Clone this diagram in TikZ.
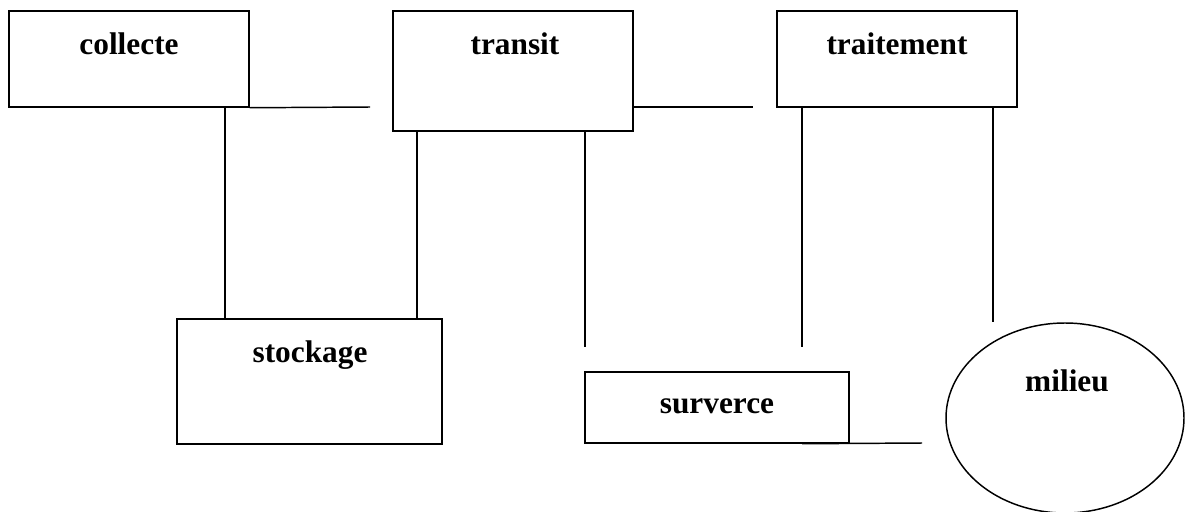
\documentclass[tikz,border=0pt]{standalone}
\usepackage{fontspec}
\setmainfont{Liberation Serif}
\usetikzlibrary{shapes.geometric}
\begin{document}
\begin{tikzpicture}[x=0.75pt,y=-0.75pt,
  box/.style={draw,line width=1.1pt,inner sep=0pt,rectangle},
  oval/.style={draw,line width=1.1pt,inner sep=0pt,ellipse,minimum width=238*0.75pt,minimum height=190*0.75pt},
  lbl/.style={anchor=base,inner sep=0pt,font=\fontsize{23.5}{28}\selectfont\bfseries},
  wire/.style={line width=1.1pt}]
\useasboundingbox (0,0) rectangle (1185,511);
% boxes
\node[box,minimum width=240*0.75pt,minimum height=96*0.75pt] (collecte) at (129,59) {};
\node[box,minimum width=240*0.75pt,minimum height=120*0.75pt] (transit) at (513,71) {};
\node[box,minimum width=240*0.75pt,minimum height=96*0.75pt] (traitement) at (897,59) {};
\node[box,minimum width=265*0.75pt,minimum height=125*0.75pt] (stockage) at (309.5,381.5) {};
\node[box,minimum width=264*0.75pt,minimum height=71*0.75pt] (surverce) at (717,407.5) {};
\node[oval] (milieu) at (1065,418) {};
% labels
\node[lbl] (tcollecte) at (129,54) {collecte};
\node[lbl] (ttransit) at (515,54) {transit};
\node[lbl] (ttraitement) at (897,54) {traitement};
\node[lbl] (tstockage) at (310,362) {stockage};
\node[lbl] (tsurverce) at (717,413) {surverce};
\node[lbl] (tmilieu) at (1067,391) {milieu};
% free ends
\coordinate (e1) at (370,107);
\coordinate (e2) at (753,107);
\coordinate (e3) at (585,347);
\coordinate (e4) at (802,347);
\coordinate (e5) at (922,443);
\coordinate (x1) at (225,0);
\coordinate (x2) at (417,0);
\coordinate (x3) at (993,0);
% connectors
\draw[wire] (collecte.south east) -- (e1);
\draw[wire] (transit.east |- e2) -- (e2);
\draw[wire] (collecte.south -| x1) -- (stockage.north -| x1);
\draw[wire] (transit.south -| x2) -- (stockage.north -| x2);
\draw[wire] (transit.south -| e3) -- (e3);
\draw[wire] (traitement.south -| e4) -- (e4);
\draw[wire] (traitement.south -| x3) -- (milieu.north -| x3);
\draw[wire] (surverce.south -| e4) -- (e5);
\end{tikzpicture}
\end{document}
